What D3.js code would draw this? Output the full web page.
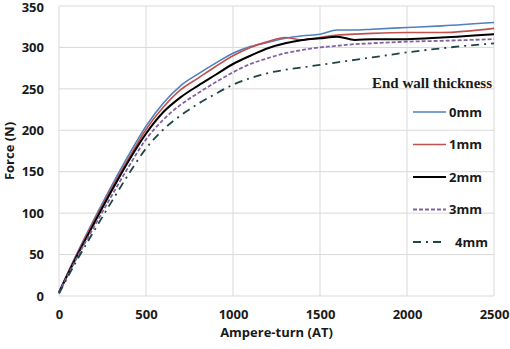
<!DOCTYPE html>
<html>
<head>
<meta charset="utf-8">
<script src="https://cdn.jsdelivr.net/npm/d3@7"></script>
<style>
  body { margin: 0; background: #fff; }
  text { font-family: "Open Sans", "Noto Sans", sans-serif; font-weight: bold; fill: #1a1a1a; }
</style>
</head>
<body>
<div id="chart"></div>
<script>
// ampere-turn sample points
const ampereTurns = [0, 100, 200, 300, 400, 500, 600, 700, 800, 900, 1000, 1100, 1200, 1300, 1400, 1500, 1600, 1700, 1800, 2000, 2200, 2500]

// force (N) for each end wall thickness
const force0mm = [5, 50, 92, 132, 170, 205, 233, 254, 268, 281, 293, 301, 306, 311, 314, 316, 321, 321, 322, 324, 326, 330]
const force1mm = [5, 49, 90, 129, 166, 201, 228, 249, 263, 277, 290, 300, 307, 312, 309, 312, 315, 316, 317, 318, 318, 323]
const force2mm = [4, 47, 87, 126, 163, 196, 222, 240, 254, 267, 280, 290, 299, 305, 309, 311, 313, 309, 310, 310, 312, 316]
const force3mm = [4, 45, 83, 120, 156, 189, 213, 231, 245, 258, 270, 280, 287, 293, 297, 300, 302, 304, 305, 307, 308, 310]
const force4mm = [3, 42, 78, 113, 147, 178, 201, 218, 232, 244, 255, 263, 269, 273, 276, 279, 282, 285, 288, 294, 299, 305]

const seriesNames = ['0mm', '1mm', '2mm', '3mm', '4mm']
const xTicks = [0, 500, 1000, 1500, 2000, 2500]
const yTicks = [0, 50, 100, 150, 200, 250, 300, 350]

const styles = [
  {color: '#4f81bd', width: 1.6, dash: null},
  {color: '#c0504d', width: 1.6, dash: null},
  {color: '#000000', width: 2, dash: null},
  {color: '#8064a2', width: 1.8, dash: '4,2'},
  {color: '#1e4646', width: 1.8, dash: '8,5,2,5'}
]

const width = 510
const height = 349
const margin = {top: 6, right: 16, bottom: 53, left: 59}

const svg = d3.select('#chart').append('svg')
  .attr('width', width)
  .attr('height', height)

const x = d3.scaleLinear().domain([0, 2500]).range([margin.left, width - margin.right])
const y = d3.scaleLinear().domain([0, 350]).range([height - margin.bottom, margin.top])

// grid
svg.append('g').selectAll('line')
  .data(yTicks)
  .join('line')
  .attr('x1', x(0)).attr('x2', x(2500))
  .attr('y1', d => y(d)).attr('y2', d => y(d))
  .attr('stroke', '#d9d9d9').attr('stroke-width', 1)

svg.append('g').selectAll('line')
  .data(xTicks)
  .join('line')
  .attr('x1', d => x(d)).attr('x2', d => x(d))
  .attr('y1', y(0)).attr('y2', y(350))
  .attr('stroke', '#d9d9d9').attr('stroke-width', 1)

// axes (labels only)
const xAxis = svg.append('g')
  .attr('transform', `translate(0,${y(0)})`)
  .call(d3.axisBottom(x).tickValues(xTicks).tickSize(0).tickPadding(14).tickFormat(d3.format('d')))
xAxis.select('.domain').remove()
xAxis.selectAll('text').style('font-size', '13px').attr('fill', '#1a1a1a')

const yAxis = svg.append('g')
  .attr('transform', `translate(${x(0)},0)`)
  .call(d3.axisLeft(y).tickValues(yTicks).tickSize(0).tickPadding(15))
yAxis.select('.domain').remove()
yAxis.selectAll('text').style('font-size', '13px').attr('fill', '#1a1a1a')
// keep the top label inside the frame
yAxis.selectAll('.tick').filter(d => d === 350).select('text').attr('dy', '0.45em')

// series lines
const allSeries = [force0mm, force1mm, force2mm, force3mm, force4mm]
const line = d3.line()
  .x((d, i) => x(ampereTurns[i]))
  .y(d => y(d))
  .curve(d3.curveMonotoneX)

allSeries.forEach((vals, i) => {
  svg.append('path')
    .datum(vals)
    .attr('d', line)
    .attr('fill', 'none')
    .attr('stroke', styles[i].color)
    .attr('stroke-width', styles[i].width)
    .attr('stroke-dasharray', styles[i].dash)
})

// axis titles
svg.append('text')
  .attr('x', x(1250))
  .attr('y', 337)
  .attr('text-anchor', 'middle')
  .style('font-size', '13px')
  .text('Ampere-turn (AT)')

svg.append('text')
  .attr('transform', `translate(14,${y(175)}) rotate(-90)`)
  .attr('text-anchor', 'middle')
  .style('font-size', '13px')
  .text('Force (N)')

// legend
const legend = svg.append('g')
legend.append('text')
  .attr('x', 492)
  .attr('y', 88)
  .attr('text-anchor', 'end')
  .style('font-family', '"Liberation Serif", "Times New Roman", serif')
  .style('font-size', '15px')
  .text('End wall thickness')

seriesNames.forEach((name, i) => {
  const ly = 112 + i * 32.5
  legend.append('line')
    .attr('x1', 413).attr('x2', 446)
    .attr('y1', ly).attr('y2', ly)
    .attr('stroke', styles[i].color)
    .attr('stroke-width', styles[i].width)
    .attr('stroke-dasharray', styles[i].dash)
  legend.append('text')
    .attr('x', i == 4 ? 455 : 449)
    .attr('y', ly + 4.5)
    .style('font-size', '13px')
    .text(name)
})
</script>
</body>
</html>
